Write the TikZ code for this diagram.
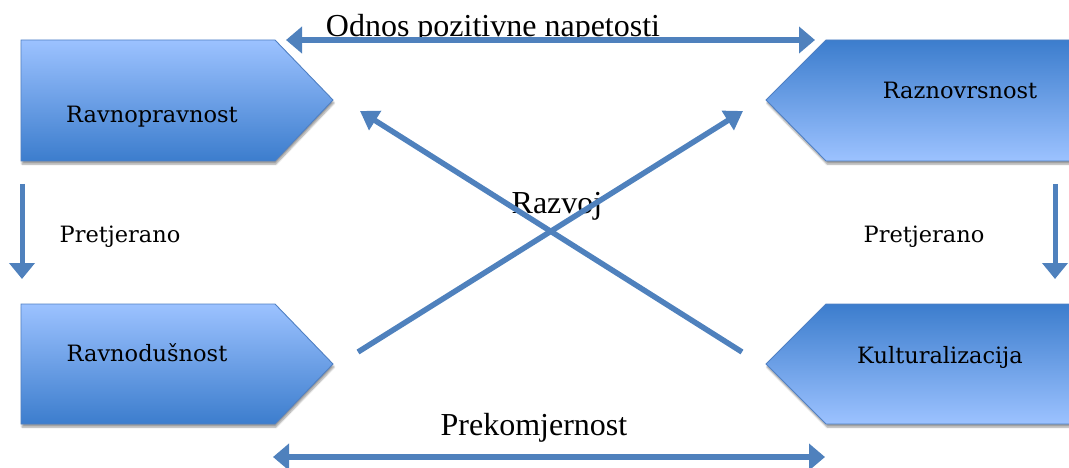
\documentclass[tikz,border=0pt]{standalone}
\usepackage{fontspec}
\newfontfamily\timesf{Liberation Serif}
\newfontfamily\boxf{DejaVu Serif}
\usetikzlibrary{arrows.meta,shadows.blur}
\definecolor{arr}{RGB}{79,129,189}
\definecolor{boxlight}{RGB}{156,194,255}
\definecolor{boxdark}{RGB}{60,125,205}
\definecolor{boxedge}{RGB}{80,128,195}
\begin{document}
\begin{tikzpicture}[x=1pt,y=-1pt,
  boxshape/.style={draw=boxedge, line width=0.9pt,
    blur shadow={shadow xshift=1pt, shadow yshift=-3pt, shadow blur steps=6, shadow opacity=40}},
  lighttop/.style={boxshape, top color=boxlight, bottom color=boxdark},
  darktop/.style={boxshape, top color=boxdark, bottom color=boxlight},
  conn/.style={draw=arr, line width=5pt, -{Triangle[length=16pt,width=25pt]}},
  dconn/.style={draw=arr, line width=5.5pt, {Triangle[length=16pt,width=26pt]}-{Triangle[length=16pt,width=26pt]}},
  cross/.style={draw=arr, line width=5.5pt, -{Triangle[length=18pt,width=22pt]}},
  boxtext/.style={font=\boxf\fontsize{22.5}{27}\selectfont, anchor=base, inner sep=0pt},
  bigtext/.style={font=\timesf\fontsize{32}{38}\selectfont, anchor=base, inner sep=0pt}]
\useasboundingbox (0,0) rectangle (1069,468);
\clip (0,0) rectangle (1069,468);

% boxes
\path[lighttop] (21,40) -- (275,40) -- (333,100) -- (275,161) -- (21,161) -- cycle;
\path[darktop] (1080,40) -- (826,40) -- (766,100) -- (826,161) -- (1080,161) -- cycle;
\path[lighttop] (21,304) -- (275,304) -- (333,364) -- (275,424) -- (21,424) -- cycle;
\path[darktop] (1080,304) -- (826,304) -- (766,364) -- (826,424) -- (1080,424) -- cycle;

% texts
\node[boxtext] (ravnoprav) at (152,123) {Ravnopravnost};
\node[boxtext] (raznovrs) at (960,99) {Raznovrsnost};
\node[boxtext] (ravnodus) at (147,361) {Ravnodušnost};
\node[boxtext] (kultur) at (940,363) {Kulturalizacija};
\node[boxtext] (pretL) at (120,243) {Pretjerano};
\node[boxtext] (pretR) at (924,243) {Pretjerano};
\node[bigtext] (odnos) at (493,37) {Odnos pozitivne napetosti};
\node[bigtext] (razvoj) at (557,213) {Razvoj};
\node[bigtext] (prekom) at (534,435) {Prekomjernost};

% connector end points
\coordinate (topL) at (286,40);
\coordinate (topR) at (815,40);
\coordinate (botL) at (273,457);
\coordinate (botR) at (825,457);
\coordinate (dLs) at (22,184);
\coordinate (dLe) at (22,279);
\coordinate (dRs) at (1055,184);
\coordinate (dRe) at (1055,279);
\coordinate (xAs) at (358,352);
\coordinate (xAe) at (743,111);
\coordinate (xBs) at (742,352);
\coordinate (xBe) at (360,111);

% connectors
\draw[dconn] (topL) -- (topR);
\draw[dconn] (botL) -- (botR);
\draw[conn] (dLs) -- (dLe);
\draw[conn] (dRs) -- (dRe);
\draw[cross] (xAs) -- (xAe);
\draw[cross] (xBs) -- (xBe);
\end{tikzpicture}
\end{document}
